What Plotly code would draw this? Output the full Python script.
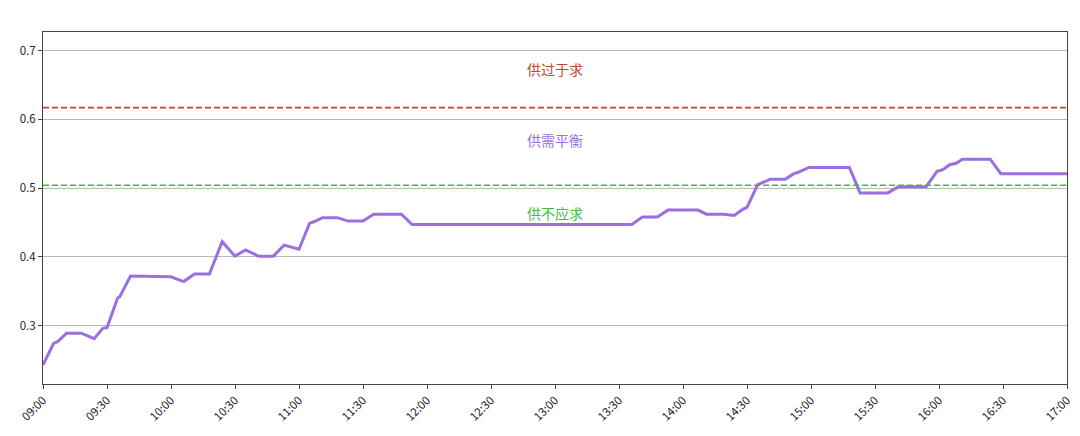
import plotly.graph_objects as go

# minutes after 09:00 and the ratio value at each vertex of the curve
minutes = [0, 5, 7, 11, 18, 24, 28, 30, 35, 36, 41, 49, 53, 60, 66, 71, 78, 84,
           90, 95, 101, 108, 113, 120, 125, 127, 131, 138, 143, 150, 155, 168,
           173, 276, 281, 288, 293, 307, 311, 319, 324, 328, 330, 335, 341, 348,
           352, 354, 359, 378, 383, 396, 401, 414, 419, 422, 425, 428, 431, 444,
           449, 480]
ratio = [0.243, 0.274, 0.277, 0.289, 0.289, 0.281, 0.296, 0.297, 0.340, 0.342,
         0.372, 0.372, 0.371, 0.371, 0.364, 0.375, 0.375, 0.422, 0.401, 0.410,
         0.401, 0.401, 0.417, 0.411, 0.449, 0.451, 0.457, 0.457, 0.452, 0.452,
         0.462, 0.462, 0.447, 0.447, 0.458, 0.458, 0.468, 0.468, 0.462, 0.462,
         0.460, 0.469, 0.472, 0.505, 0.513, 0.513, 0.521, 0.523, 0.530, 0.530,
         0.493, 0.493, 0.502, 0.502, 0.524, 0.527, 0.534, 0.536, 0.542, 0.542,
         0.521, 0.521]

upper = 0.617
lower = 0.504
labels = ["供过于求", "供需平衡", "供不应求"]
label_y = [0.673, 0.570, 0.464]

tick_vals = list(range(0, 481, 30))
tick_text = ["%02d:%02d" % (9 + m // 60, m % 60) for m in tick_vals]

red = "#c2462b"
purple = "#9b6fe0"
green = "#3cc03c"

fig = go.Figure()
fig.add_trace(go.Scatter(x=minutes, y=ratio, mode="lines",
                         line=dict(color=purple, width=3), hoverinfo="skip"))

fig.add_hline(y=upper, line=dict(color=red, width=1.6, dash="6px,3px"))
fig.add_hline(y=lower, line=dict(color=green, width=1.6, dash="6px,3px"))

for text, yv, col in zip(labels, label_y, [red, purple, green]):
    fig.add_annotation(x=240, y=yv, text=text, showarrow=False,
                       font=dict(size=14, color=col, family="Noto Sans CJK SC"))

fig.update_xaxes(range=[0, 480], tickvals=tick_vals, ticktext=tick_text,
                 tickangle=-45, ticks="outside", ticklen=4, showgrid=False,
                 showline=True, mirror=True, linecolor="#444", linewidth=1,
                 zeroline=False, automargin=False, ticklabeloverflow="allow",
                 tickfont=dict(size=11.5, color="#222", family="Noto Sans CJK SC"))
fig.update_yaxes(range=[0.215, 0.727], tickvals=[0.3, 0.4, 0.5, 0.6, 0.7],
                 tickformat=".1f", ticks="outside", ticklen=4,
                 showgrid=True, gridcolor="#b8b8b8", gridwidth=1,
                 showline=True, mirror=True, linecolor="#444", linewidth=1,
                 zeroline=False, automargin=False,
                 tickfont=dict(size=11.5, color="#222", family="Noto Sans CJK SC"))

fig.update_layout(width=1064, height=420, showlegend=False,
                  paper_bgcolor="white", plot_bgcolor="white",
                  margin=dict(l=35, r=5, t=24, b=44))

fig.write_html("out.html")
